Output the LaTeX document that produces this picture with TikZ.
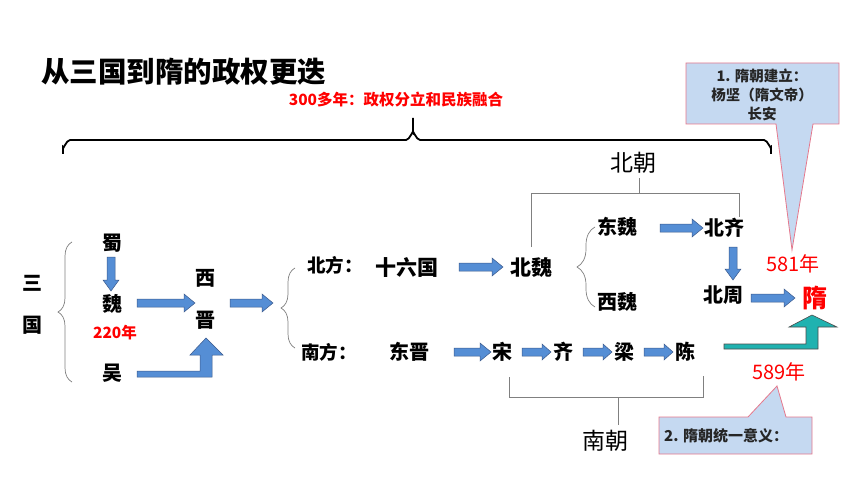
\documentclass[tikz,border=0pt]{standalone}
\usepackage{fontspec}
\setmainfont{Noto Sans CJK SC}
\usetikzlibrary{decorations.pathreplacing}
\definecolor{arrblue}{RGB}{85,142,213}
\definecolor{arredge}{RGB}{60,90,140}
\definecolor{teal2}{RGB}{32,178,176}
\definecolor{callfill}{RGB}{197,217,241}
\definecolor{calledge}{RGB}{230,120,140}
\definecolor{redtxt}{RGB}{255,0,0}
\definecolor{grayline}{RGB}{128,128,128}
\newcommand\fs[1]{\fontsize{#1}{#1}\selectfont}
\newcommand\harr[3]{\draw[barrow] (#1,#3-4) -- (#2-11,#3-4) -- (#2-11,#3-9) -- (#2,#3) -- (#2-11,#3+9) -- (#2-11,#3+4) -- (#1,#3+4) -- cycle;}
\newcommand\sarr[3]{\draw[barrow] (#1,#3-4) -- (#2-9,#3-4) -- (#2-9,#3-8) -- (#2,#3) -- (#2-9,#3+8) -- (#2-9,#3+4) -- (#1,#3+4) -- cycle;}
\newcommand\varr[3]{\draw[barrow] (#1-4,#2) -- (#1-4,#3-11) -- (#1-8,#3-11) -- (#1,#3) -- (#1+8,#3-11) -- (#1+4,#3-11) -- (#1+4,#2) -- cycle;}
\begin{document}
\begin{tikzpicture}[x=1pt,y=-1pt,
  lbl/.style={inner sep=0pt,font=\fs{20}\bfseries},
  redlbl/.style={inner sep=0pt,text=redtxt},
  barrow/.style={fill=arrblue,draw=arredge,line width=0.5pt},
  curly/.style={draw=grayline,line width=0.7pt,decorate},
  bracket/.style={draw=grayline,line width=0.8pt},
  callout/.style={fill=callfill,draw=calledge,line width=0.8pt},
  calltxt/.style={inner sep=0pt,font=\fs{14.5}\bfseries,text=black!85}]
\useasboundingbox (0,0) rectangle (860,484);
\fill[white] (0,0) rectangle (860,484);

% title
\node[inner sep=0pt,anchor=west,font=\fs{28.5}\bfseries] (title) at (41,72) {从三国到隋的政权更迭};
\node[redlbl,font=\fs{15.5}\bfseries] (span) at (396,100) {300多年：政权分立和民族融合};

% big top brace
\draw[line width=1.8pt] (63,154) -- (63,147) to[out=-90,in=180] (70,140) -- (406,140) to[out=0,in=90] (413,133) -- (413,118);
\draw[line width=1.8pt] (771,154) -- (771,147) to[out=-90,in=0] (764,140) -- (420,140) to[out=180,in=90] (413,133);

% callout 1
\draw[callout] (686,63) -- (839,63) -- (839,124) -- (813,124) -- (792,250) -- (776,124) -- (686,124) -- cycle;
\node[calltxt] (c1a) at (762,76) {1. 隋朝建立：};
\node[calltxt] (c1b) at (762,95) {杨坚（隋文帝）};
\node[calltxt] (c1c) at (762,114) {长安};

% 三国 column
\node[lbl] (san) at (32,283) {三};
\node[lbl] (guo) at (32,325) {国};
\draw[curly,decoration={brace,amplitude=14pt}] (72,382) -- (72,242);
\node[lbl] (shu) at (112,243) {蜀};
\node[lbl] (wei) at (112,304) {魏};
\node[redlbl,font=\fs{15.5}\bfseries] (y220) at (115,333) {220年};
\node[lbl] (wu) at (112,373) {吴};
\varr{111}{257}{291}
\harr{137}{195}{303}
\node[lbl] (xi) at (205,278) {西};
\node[lbl] (jin) at (205,320) {晋};
\draw[barrow] (137,371) -- (200,371) -- (200,355) -- (190,355) -- (206,338) -- (223,355) -- (212,355) -- (212,377) -- (137,377) -- cycle;
\harr{230}{273}{303}
\draw[curly,decoration={brace,amplitude=14pt}] (295,348) -- (295,268);

% north
\node[lbl,font=\fs{18.5}\bfseries] (beifang) at (335,265) {北方：};
\node[lbl,font=\fs{21}\bfseries] (shiliu) at (407,268) {十六国};
\harr{459}{503}{267}
\node[lbl,font=\fs{21}\bfseries] (beiwei) at (531,268) {北魏};
\draw[curly,decoration={brace,amplitude=18pt}] (595,307) -- (595,227);
\node[lbl] (dongwei) at (617,227) {东魏};
\node[lbl] (xiwei) at (617,302) {西魏};
\harr{660}{703}{228}
\node[lbl] (beiqi) at (724,228) {北齐};
\varr{733}{247}{280}
\node[lbl] (beizhou) at (723,295) {北周};
\harr{751}{795}{298}
\node[redlbl,font=\fs{25}\bfseries] (sui) at (815,298) {隋};
\node[redlbl,font=\fs{20}] (y581) at (793,264) {581年};

% 北朝 bracket
\node[inner sep=0pt,font=\fs{23}] (beichao) at (633,163) {北朝};
\draw[bracket] (531,247) -- (531,193) -- (739,193) -- (739,217);
\draw[bracket] (639,193) -- (639,178);

% south
\node[lbl,font=\fs{18.5}\bfseries] (nanfang) at (329,352) {南方：};
\node[lbl] (dongjin) at (409,352) {东晋};
\harr{454}{491}{352}
\node[lbl] (song) at (502,352) {宋};
\sarr{522}{551}{352}
\node[lbl] (qi) at (563,352) {齐};
\sarr{583}{612}{352}
\node[lbl] (liang) at (624,352) {梁};
\sarr{644}{673}{352}
\node[lbl] (chen) at (685,352) {陈};

% 南朝 bracket
\draw[bracket] (509,377) -- (509,397) -- (703,397) -- (703,376);
\draw[bracket] (618,397) -- (618,425);
\node[inner sep=0pt,font=\fs{23}] (nanchao) at (605,441) {南朝};

% teal arrow
\draw[fill=teal2,draw=black!70,line width=0.6pt] (724,344) -- (806,344) -- (806,327) -- (789,327) -- (812,315) -- (837,327) -- (818,327) -- (818,349) -- (724,349) -- cycle;
\node[redlbl,font=\fs{20}] (y589) at (779,372) {589年};

% callout 2
\draw[callout] (659,417) -- (748,417) -- (777,386) -- (786,417) -- (812,417) -- (812,454) -- (659,454) -- cycle;
\node[calltxt,anchor=west,font=\fs{15}\bfseries] (c2) at (664,436) {2. 隋朝统一意义：};
\end{tikzpicture}
\end{document}
